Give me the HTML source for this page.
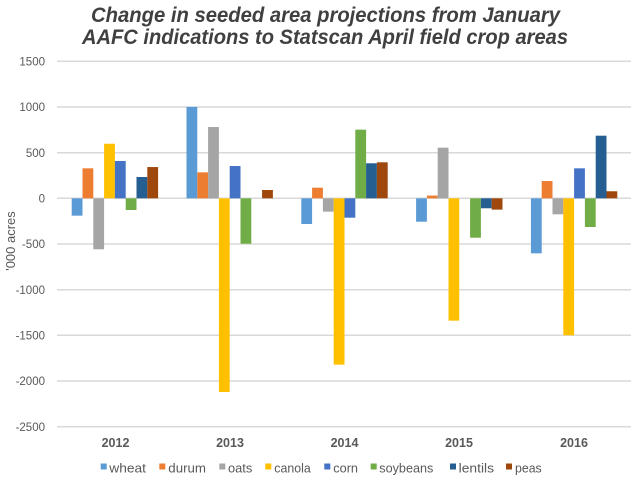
<!DOCTYPE html>
<html><head><meta charset="utf-8"><style>
html,body{margin:0;padding:0;background:#fff;}
svg{display:block;}
</style></head><body>
<svg width="640" height="480" viewBox="0 0 640 480" xmlns="http://www.w3.org/2000/svg">
<rect width="640" height="480" fill="#fff"/>
<g font-family="Liberation Sans, sans-serif" font-style="italic" font-weight="bold" font-size="21" fill="#404040">
<text x="91" y="22" textLength="469" lengthAdjust="spacingAndGlyphs">Change in seeded area projections from January</text>
<text x="82" y="44" textLength="486" lengthAdjust="spacingAndGlyphs">AAFC indications to Statscan April field crop areas</text>
</g>
<g stroke="#D9D9D9" stroke-width="1.5">
<line x1="57" x2="631" y1="61.3" y2="61.3"/>
<line x1="57" x2="631" y1="107" y2="107"/>
<line x1="57" x2="631" y1="152.7" y2="152.7"/>
<line x1="57" x2="631" y1="198.3" y2="198.3"/>
<line x1="57" x2="631" y1="244" y2="244"/>
<line x1="57" x2="631" y1="289.7" y2="289.7"/>
<line x1="57" x2="631" y1="335.3" y2="335.3"/>
<line x1="57" x2="631" y1="381" y2="381"/>
<line x1="57" x2="631" y1="426.7" y2="426.7"/>
</g>
<g font-family="Liberation Sans, sans-serif" font-size="11.5" fill="#595959" text-anchor="end">
<text x="45" y="65.5">1500</text>
<text x="45" y="111.2">1000</text>
<text x="45" y="156.9">500</text>
<text x="45" y="202.5">0</text>
<text x="45" y="248.2">-500</text>
<text x="45" y="293.9">-1000</text>
<text x="45" y="339.5">-1500</text>
<text x="45" y="385.2">-2000</text>
<text x="45" y="430.9">-2500</text>
</g>
<g transform="translate(0,198.3) scale(1,-0.0914)">
<rect x="71.7" y="-190" width="10.8" height="190" fill="#5B9BD5"/>
<rect x="82.5" y="0" width="10.8" height="328" fill="#ED7D31"/>
<rect x="93.3" y="-558" width="10.8" height="558" fill="#A5A5A5"/>
<rect x="104.1" y="0" width="10.8" height="597" fill="#FFC000"/>
<rect x="114.9" y="0" width="10.8" height="408" fill="#4472C4"/>
<rect x="125.7" y="-128" width="10.8" height="128" fill="#70AD47"/>
<rect x="136.5" y="0" width="10.8" height="233" fill="#255E91"/>
<rect x="147.3" y="0" width="10.8" height="342" fill="#9E480E"/>
<rect x="186.5" y="0" width="10.8" height="1000" fill="#5B9BD5"/>
<rect x="197.3" y="0" width="10.8" height="284" fill="#ED7D31"/>
<rect x="208.1" y="0" width="10.8" height="780" fill="#A5A5A5"/>
<rect x="218.9" y="-2119" width="10.8" height="2119" fill="#FFC000"/>
<rect x="229.7" y="0" width="10.8" height="353" fill="#4472C4"/>
<rect x="240.5" y="-497" width="10.8" height="497" fill="#70AD47"/>
<rect x="262.1" y="0" width="10.8" height="91" fill="#9E480E"/>
<rect x="301.3" y="-281" width="10.8" height="281" fill="#5B9BD5"/>
<rect x="312.1" y="0" width="10.8" height="116" fill="#ED7D31"/>
<rect x="322.9" y="-146" width="10.8" height="146" fill="#A5A5A5"/>
<rect x="333.7" y="-1820" width="10.8" height="1820" fill="#FFC000"/>
<rect x="344.5" y="-212" width="10.8" height="212" fill="#4472C4"/>
<rect x="355.3" y="0" width="10.8" height="751" fill="#70AD47"/>
<rect x="366.1" y="0" width="10.8" height="383" fill="#255E91"/>
<rect x="376.9" y="0" width="10.8" height="394" fill="#9E480E"/>
<rect x="416.1" y="-256" width="10.8" height="256" fill="#5B9BD5"/>
<rect x="426.9" y="0" width="10.8" height="30" fill="#ED7D31"/>
<rect x="437.7" y="0" width="10.8" height="554" fill="#A5A5A5"/>
<rect x="448.5" y="-1339" width="10.8" height="1339" fill="#FFC000"/>
<rect x="470.1" y="-431" width="10.8" height="431" fill="#70AD47"/>
<rect x="480.9" y="-109" width="10.8" height="109" fill="#255E91"/>
<rect x="491.7" y="-124" width="10.8" height="124" fill="#9E480E"/>
<rect x="530.9" y="-602" width="10.8" height="602" fill="#5B9BD5"/>
<rect x="541.7" y="0" width="10.8" height="189" fill="#ED7D31"/>
<rect x="552.5" y="-175" width="10.8" height="175" fill="#A5A5A5"/>
<rect x="563.3" y="-1499" width="10.8" height="1499" fill="#FFC000"/>
<rect x="574.1" y="0" width="10.8" height="328" fill="#4472C4"/>
<rect x="584.9" y="-314" width="10.8" height="314" fill="#70AD47"/>
<rect x="595.7" y="0" width="10.8" height="685" fill="#255E91"/>
<rect x="606.5" y="0" width="10.8" height="77" fill="#9E480E"/>
</g>
<text x="15" y="241" transform="rotate(-90 15 241)" font-family="Liberation Sans, sans-serif" font-size="13" fill="#595959" text-anchor="middle">'000 acres</text>
<g font-family="Liberation Sans, sans-serif" font-size="12.5" font-weight="bold" fill="#595959" text-anchor="middle">
<text x="115.5" y="447">2012</text>
<text x="230" y="447">2013</text>
<text x="344.5" y="447">2014</text>
<text x="459" y="447">2015</text>
<text x="574" y="447">2016</text>
</g>
<g>
<rect x="100.7" y="463.5" width="6" height="6" fill="#5B9BD5"/>
<rect x="159.3" y="463.5" width="6" height="6" fill="#ED7D31"/>
<rect x="219.3" y="463.5" width="6" height="6" fill="#A5A5A5"/>
<rect x="265.3" y="463.5" width="6" height="6" fill="#FFC000"/>
<rect x="324.3" y="463.5" width="6" height="6" fill="#4472C4"/>
<rect x="370.7" y="463.5" width="6" height="6" fill="#70AD47"/>
<rect x="450" y="463.5" width="6" height="6" fill="#255E91"/>
<rect x="506" y="463.5" width="6" height="6" fill="#9E480E"/>
</g>
<g font-family="Liberation Sans, sans-serif" font-size="13" fill="#595959">
<text x="109.3" y="472.5" textLength="36.7" lengthAdjust="spacingAndGlyphs">wheat</text>
<text x="168.3" y="472.5" textLength="37.7" lengthAdjust="spacingAndGlyphs">durum</text>
<text x="228" y="472.5" textLength="24.3" lengthAdjust="spacingAndGlyphs">oats</text>
<text x="274.3" y="472.5" textLength="36.4" lengthAdjust="spacingAndGlyphs">canola</text>
<text x="333.3" y="472.5" textLength="24.7" lengthAdjust="spacingAndGlyphs">corn</text>
<text x="379.3" y="472.5" textLength="54" lengthAdjust="spacingAndGlyphs">soybeans</text>
<text x="458.7" y="472.5" textLength="35.3" lengthAdjust="spacingAndGlyphs">lentils</text>
<text x="515" y="472.5" textLength="26.7" lengthAdjust="spacingAndGlyphs">peas</text>
</g>
</svg>
</body></html>
